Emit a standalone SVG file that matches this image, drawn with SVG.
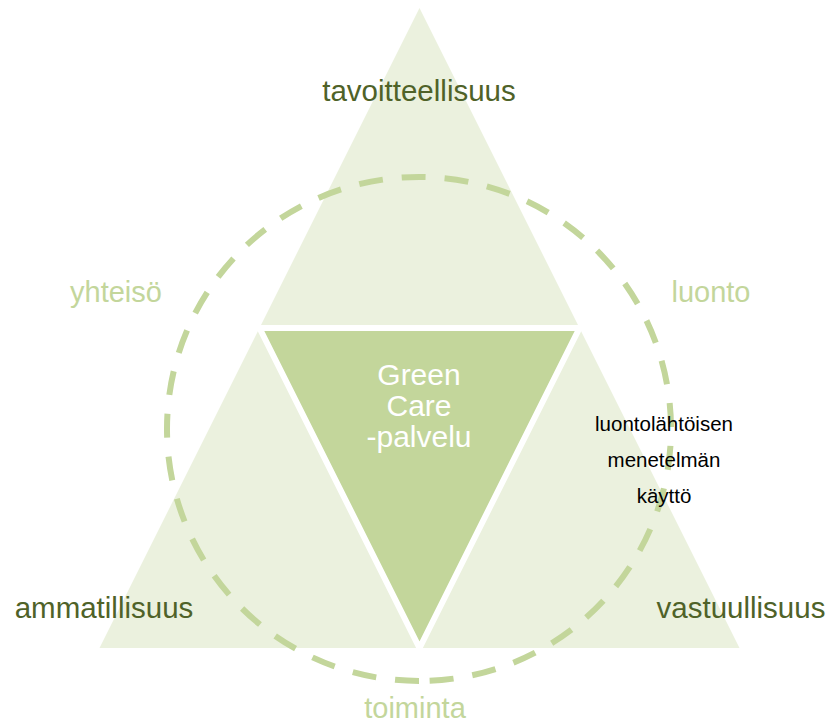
<svg xmlns="http://www.w3.org/2000/svg" width="829" height="724" viewBox="0 0 829 724">
  <style>
    .tri { fill: #EBF1DE; }
    .core { fill: #C3D69B; stroke: #FFFFFF; stroke-width: 6; stroke-linejoin: miter; }
    .ring { fill: none; stroke: #C3D69B; stroke-width: 6; stroke-dasharray: 24 19; }
    text { font-family: "Liberation Sans", Arial, sans-serif; text-anchor: middle; }
    .corner { font-size: 29.5px; fill: #4F6228; }
    .side { font-size: 29px; fill: #C3D69B; }
    .center { font-size: 30px; fill: #FFFFFF; }
    .note { font-size: 20.5px; fill: #000000; }
  </style>

  <rect width="829" height="724" fill="#FFFFFF"/>

  <!-- outer triangles -->
  <g id="tri-top"><polygon class="tri" points="419.5,8 259.5,328 579.5,328"/></g>
  <g id="tri-left"><polygon class="tri" points="259.5,328 99.5,648 419.5,648"/></g>
  <g id="tri-right"><polygon class="tri" points="579.5,328 419.5,648 739.5,648"/></g>

  <!-- inner inverted triangle -->
  <g id="core">
    <polygon class="core" points="259.5,328 579.5,328 419.5,648"/>
  </g>

  <!-- dashed ring -->
  <g id="connectors">
    <path class="ring" d="M419,681 A252,252 0 0 1 419,177 A252,252 0 0 1 419,681 Z"/>
  </g>

  <!-- labels -->
  <g id="label-tavoitteellisuus"><text class="corner" x="419" y="101">tavoitteellisuus</text></g>
  <g id="label-ammatillisuus"><text class="corner" x="104" y="618">ammatillisuus</text></g>
  <g id="label-vastuullisuus"><text class="corner" x="741" y="618">vastuullisuus</text></g>

  <g id="label-yhteiso"><text class="side" x="116" y="302">yhteisö</text></g>
  <g id="label-luonto"><text class="side" x="711" y="302">luonto</text></g>
  <g id="label-toiminta"><text class="side" x="415" y="718">toiminta</text></g>

  <g id="label-core">
    <text class="center" x="419" y="385">Green</text>
    <text class="center" x="419" y="416">Care</text>
    <text class="center" x="419" y="447">-palvelu</text>
  </g>

  <g id="label-method">
    <text class="note" x="664" y="431">luontolähtöisen</text>
    <text class="note" x="664" y="467">menetelmän</text>
    <text class="note" x="664" y="503">käyttö</text>
  </g>
</svg>
